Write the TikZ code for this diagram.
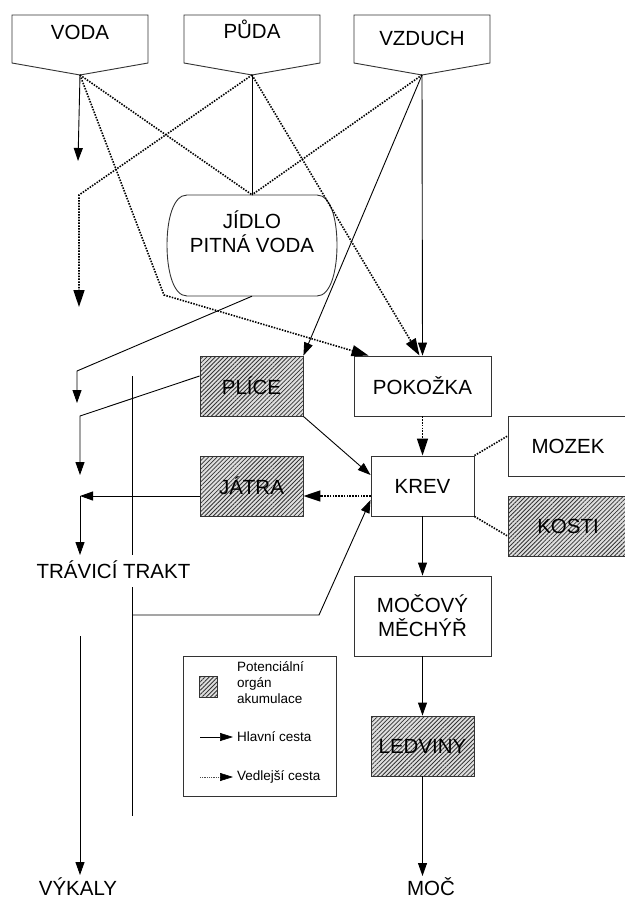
\documentclass[tikz,border=0pt]{standalone}
\usepackage{fontspec}
\setmainfont{Liberation Sans}
\usepackage{tikz}
\usetikzlibrary{calc,arrows.meta,patterns.meta,positioning}

\begin{document}
\begin{tikzpicture}[x=1pt,y=-1pt]
			\tikzstyle{every node}+=[inner sep=0pt, font=\fontsize{20.5pt}{24pt}\selectfont]
			\tikzstyle{organ}=[draw=black!80, line width=0.9pt, minimum width=137pt, minimum height=60pt]
			\tikzstyle{smallorgan}=[organ, minimum width=103pt]
			\tikzstyle{hatch}=[preaction={fill=gray!25}, pattern={Lines[angle=45,distance=3pt,line width=0.8pt]}, pattern color=black!80]
			\tikzstyle{main}=[line width=0.9pt, -{Triangle[length=13pt,width=9pt]}]
			\tikzstyle{mainline}=[line width=0.9pt]
			\tikzstyle{side}=[line width=1.6pt, dash pattern=on 1.5pt off 1.3pt, -{Triangle[length=17pt,width=11pt]}]
			\tikzstyle{sideline}=[line width=1.6pt, dash pattern=on 1.5pt off 1.3pt]
			\tikzstyle{keyfont}=[font=\fontsize{13.5pt}{16pt}\selectfont]
			\useasboundingbox (0,0) rectangle (624,899);
			\foreach \x/\n/\t/\ty in {80/voda/VODA/40,252/puda/PŮDA/39,422/vzduch/VZDUCH/46}{
				\draw [draw=black!80, line width=0.9pt] ({\x-68},15) -- ({\x+68},15) -- ({\x+68},63) -- (\x,75) -- ({\x-68},63) -- cycle;
				\node [anchor=base] (\n) at (\x,\ty) {\t};
				\coordinate (\n-tip) at (\x,75);
			}
			\draw [draw=black!80, line width=0.9pt] (187,195) -- (317,195) .. controls (331,195) and (337,220) .. (337,245) .. controls (337,270) and (331,296) .. (317,296) -- (187,296) .. controls (173,296) and (167,270) .. (167,245) .. controls (167,220) and (173,195) .. (187,195) -- cycle;
			\node [minimum width=171pt, minimum height=101pt] (jidlo) at (252,245.5) {};
			\node [align=center] (jidlotext) at (252,232) {JÍDLO\\PITNÁ VODA};
			\node [smallorgan, hatch] (plice) at (251.5,386) {PLÍCE};
			\node [organ] (pokozka) at (422.5,386) {POKOŽKA};
			\node [smallorgan] (krev) at (422.5,486) {KREV};
			\node [smallorgan, hatch] (jatra) at (251.5,486) {JÁTRA};
			\node [organ, minimum width=120pt] (mozek) at (568,446) {MOZEK};
			\node [organ, minimum width=120pt, hatch] (kosti) at (568,526) {KOSTI};
			\node [organ, minimum height=80pt, align=center] (mocovy) at (422.5,616) {MOČOVÝ\\MĚCHÝŘ};
			\node [smallorgan, hatch] (ledviny) at (422.5,746) {LEDVINY};
			\node (trakt) at (113.5,570) {TRÁVICÍ TRAKT};
			\node [anchor=base] (vykaly) at (78,895) {VÝKALY};
			\node [anchor=base] (moc) at (431,895) {MOČ};
			\coordinate (vodaend) at (78,161);
			\coordinate (vbend) at (164,295);
			\coordinate (pbend) at (79,195);
			\coordinate (pudaend) at (79,307);
			\coordinate (jbend) at (77,371);
			\coordinate (jidloend) at (77,403);
			\coordinate (lbend) at (80,416);
			\coordinate (pliceend) at (80,475);
			\coordinate (jcorner) at (80,496);
			\coordinate (jatraend) at (80,555);
			\coordinate (feces) at (80,636);
			\coordinate (fecesend) at (80,875);
			\coordinate (mocend) at (422.5,876);
			\coordinate (gtop) at (132,376);
			\coordinate (gmid) at (132,555);
			\coordinate (glow) at (132,587);
			\coordinate (gbottom) at (132,816);
			\coordinate (gturn) at (132,615);
			\coordinate (gbend) at (319,615);
			\draw [main] (voda-tip) -- (vodaend);
			\draw [sideline] (voda-tip) -- (jidlo.north);
			\draw [side] (voda-tip) -- (vbend) -- ([xshift=15pt]pokozka.north west);
			\draw [mainline] (puda-tip) -- (jidlo.north);
			\draw [side] (puda-tip) -- (pbend) -- (pudaend);
			\draw [side] (puda-tip) -- ([xshift=-3pt]pokozka.north);
			\draw [sideline] (vzduch-tip) -- (jidlo.north);
			\draw [main] (vzduch-tip) -- (plice.north east);
			\draw [main] (vzduch-tip) -- (pokozka.north);
			\draw [main] (jidlo.south) -- (jbend) -- (jidloend);
			\draw [main] ([yshift=10pt]plice.west) -- (lbend) -- (pliceend);
			\draw [main] (plice.south east) -- ([yshift=11pt]krev.west);
			\draw [side] (pokozka.south) -- (krev.north);
			\draw [side] ([yshift=-10pt]krev.west) -- ([yshift=-10pt]jatra.east);
			\draw [main] ([yshift=-10pt]jatra.west) -- (jcorner);
			\draw [main] (jcorner) -- (jatraend);
			\draw [sideline] (krev.north east) -- ([yshift=10pt]mozek.west);
			\draw [sideline] (krev.south east) -- ([yshift=-10pt]kosti.west);
			\draw [main] (krev.south) -- (mocovy.north);
			\draw [main] (mocovy.south) -- (ledviny.north);
			\draw [main] (ledviny.south) -- (mocend);
			\draw [main] (feces) -- (fecesend);
			\draw [mainline] (gtop) -- (gmid);
			\draw [mainline] (glow) -- (gbottom);
			\draw [main] (gturn) -- (gbend) -- ([yshift=-14pt]krev.west);
			\node [draw=black!80, line width=0.9pt, minimum width=153pt, minimum height=140pt] (legend) at (259.5,726) {};
			\node [draw=black!80, line width=0.6pt, hatch, minimum width=18pt, minimum height=21pt] (keybox) at (208,686.5) {};
			\node [keyfont, anchor=west, align=left] (keytext) at (237,683) {Potenciální\\orgán\\akumulace};
			\coordinate (keya) at (200,737);
			\coordinate (keyb) at (233,737);
			\coordinate (keyc) at (200,777);
			\coordinate (keyd) at (233,777);
			\draw [line width=0.7pt, -{Triangle[length=13pt,width=8pt]}] (keya) -- (keyb);
			\draw [line width=0.6pt, black!70, dash pattern=on 0.8pt off 1pt, -{Triangle[length=13pt,width=8pt]}, arrows={[black]}] (keyc) -- (keyd);
			\node [keyfont, anchor=west] (keymain) at (237,737) {Hlavní cesta};
			\node [keyfont, anchor=west] (keyside) at (237,777) {Vedlejší cesta};
		\end{tikzpicture}
\end{document}
